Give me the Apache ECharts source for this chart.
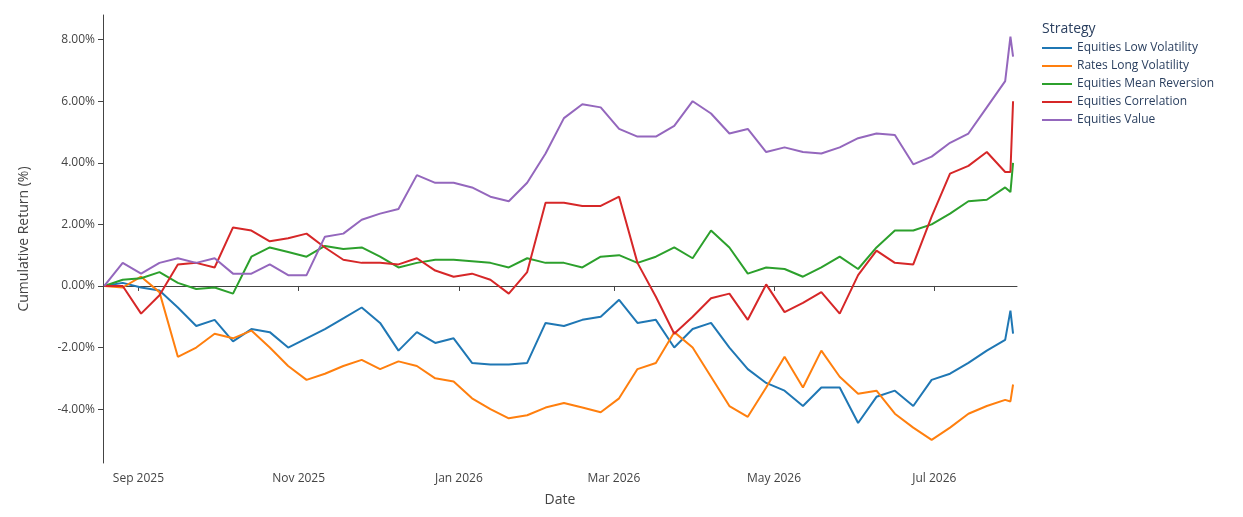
<!DOCTYPE html>
<html>
<head>
<meta charset="utf-8">
<script src="https://cdn.jsdelivr.net/npm/echarts@6/dist/echarts.min.js"></script>
<style>html,body{margin:0;padding:0;background:#fff}#container1{width:1243px;height:517px}</style>
</head>
<body>
<div id="container1"></div>
<script>
// weekly sample dates from 2025-08-19, plus the last two days
var dates = [];
var d0 = Date.UTC(2025, 7, 19);
for (var i = 0; i < 50; i++) dates.push(d0 + i * 7 * 86400000);
dates.push(Date.UTC(2026, 6, 30));
dates.push(Date.UTC(2026, 6, 31));

var names = ['Equities Low Volatility', 'Rates Long Volatility', 'Equities Mean Reversion', 'Equities Correlation', 'Equities Value'];

var lowVol = [0, 0.1, -0.05, -0.15, -0.7, -1.3, -1.1, -1.8, -1.4, -1.5, -2.0, -1.7, -1.4, -1.05, -0.7, -1.2, -2.1, -1.5, -1.85, -1.7,
  -2.5, -2.55, -2.55, -2.5, -1.2, -1.3, -1.1, -1.0, -0.45, -1.2, -1.1, -2.0, -1.4, -1.2, -2.0, -2.7, -3.15, -3.4, -3.9, -3.3,
  -3.3, -4.45, -3.6, -3.4, -3.9, -3.05, -2.85, -2.5, -2.1, -1.75, -0.8, -1.55];
var ratesVol = [0, -0.05, 0.3, -0.2, -2.3, -2.0, -1.55, -1.7, -1.45, -2.0, -2.6, -3.05, -2.85, -2.6, -2.4, -2.7, -2.45, -2.6, -3.0, -3.1,
  -3.65, -4.0, -4.3, -4.2, -3.95, -3.8, -3.95, -4.1, -3.65, -2.7, -2.5, -1.5, -2.0, -2.95, -3.9, -4.25, -3.3, -2.3, -3.3, -2.1,
  -2.95, -3.5, -3.4, -4.15, -4.6, -5.0, -4.6, -4.15, -3.9, -3.7, -3.75, -3.2];
var meanRev = [0, 0.2, 0.25, 0.45, 0.1, -0.1, -0.05, -0.25, 0.95, 1.25, 1.1, 0.95, 1.3, 1.2, 1.25, 0.95, 0.6, 0.75, 0.85, 0.85,
  0.8, 0.75, 0.6, 0.9, 0.75, 0.75, 0.6, 0.95, 1.0, 0.75, 0.95, 1.25, 0.9, 1.8, 1.25, 0.4, 0.6, 0.55, 0.3, 0.6,
  0.95, 0.55, 1.25, 1.8, 1.8, 2.0, 2.35, 2.75, 2.8, 3.2, 3.05, 4.0];
var correl = [0, 0.0, -0.9, -0.3, 0.7, 0.75, 0.6, 1.9, 1.8, 1.45, 1.55, 1.7, 1.25, 0.85, 0.75, 0.75, 0.7, 0.9, 0.5, 0.3,
  0.4, 0.2, -0.25, 0.45, 2.7, 2.7, 2.6, 2.6, 2.9, 0.75, -0.35, -1.55, -1.0, -0.4, -0.25, -1.1, 0.05, -0.85, -0.55, -0.2,
  -0.9, 0.35, 1.15, 0.75, 0.7, 2.25, 3.65, 3.9, 4.35, 3.7, 3.7, 6.0];
var value = [0, 0.75, 0.4, 0.75, 0.9, 0.75, 0.9, 0.4, 0.4, 0.7, 0.35, 0.35, 1.6, 1.7, 2.15, 2.35, 2.5, 3.6, 3.35, 3.35,
  3.2, 2.9, 2.75, 3.35, 4.3, 5.45, 5.9, 5.8, 5.1, 4.85, 4.85, 5.2, 6.0, 5.6, 4.95, 5.1, 4.35, 4.5, 4.35, 4.3,
  4.5, 4.8, 4.95, 4.9, 3.95, 4.2, 4.65, 4.95, 5.8, 6.65, 8.1, 7.45];

var yTicks = [-4, -2, 0, 2, 4, 6, 8];
var xTicks = [Date.UTC(2025, 8, 1), Date.UTC(2025, 10, 1), Date.UTC(2026, 0, 1), Date.UTC(2026, 2, 1), Date.UTC(2026, 4, 1), Date.UTC(2026, 6, 1)];
var monthNames = ['Jan', 'Feb', 'Mar', 'Apr', 'May', 'Jun', 'Jul', 'Aug', 'Sep', 'Oct', 'Nov', 'Dec'];

var dom = document.getElementById("container1");
var myChart = echarts.init(dom, null, {renderer: 'canvas'});
var colors = ['#1f77b4', '#ff7f0e', '#2ca02c', '#d62728', '#9467bd'];
var all = [lowVol, ratesVol, meanRev, correl, value];

function pairs(arr) {
    return arr.map(function (v, i) { return [dates[i], v]; });
}

var option = {
    color: colors,
    animation: false,
    textStyle: {fontFamily: 'Open Sans, Noto Sans, sans-serif'},
    title: {
        text: 'Strategy', left: 1037, top: 17,
        textStyle: {fontSize: 14, fontWeight: 'normal', color: '#2a3f5f'}
    },
    legend: {
        orient: 'vertical', left: 1037, top: 37, itemGap: 6,
        itemWidth: 30, itemHeight: 2, icon: 'rect',
        textStyle: {fontSize: 12, color: '#2a3f5f'},
        data: names
    },
    grid: {left: 103, right: 226, top: 15, bottom: 54},
    xAxis: {
        type: 'value',
        min: Date.UTC(2025, 7, 18, 12), max: Date.UTC(2026, 7, 1, 12),
        name: 'Date', nameLocation: 'middle', nameGap: 30,
        nameTextStyle: {fontSize: 14, color: '#444'},
        axisLine: {lineStyle: {color: '#444'}},
        axisTick: {show: true, customValues: xTicks, length: 5, lineStyle: {color: '#444'}},
        axisLabel: {
            customValues: xTicks, color: '#444', fontSize: 12, margin: 10,
            formatter: function (v) { var t = new Date(v); return monthNames[t.getUTCMonth()] + ' ' + t.getUTCFullYear(); }
        },
        splitLine: {show: false}
    },
    yAxis: {
        type: 'value', min: -5.75, max: 8.8,
        name: 'Cumulative Return (%)', nameLocation: 'middle', nameGap: 72,
        nameTextStyle: {fontSize: 14, color: '#444'},
        axisLine: {show: true, lineStyle: {color: '#444'}},
        axisTick: {show: true, customValues: yTicks, length: 5, lineStyle: {color: '#444'}},
        axisLabel: {
            customValues: yTicks, color: '#444', fontSize: 12,
            formatter: function (v) { return v.toFixed(2) + '%'; }
        },
        splitLine: {show: false}
    },
    series: names.map(function (n, k) {
        return {
            name: n, type: 'line', data: pairs(all[k]),
            showSymbol: false, lineStyle: {width: 2}
        };
    })
};
myChart.setOption(option, true);
</script>
</body>
</html>
